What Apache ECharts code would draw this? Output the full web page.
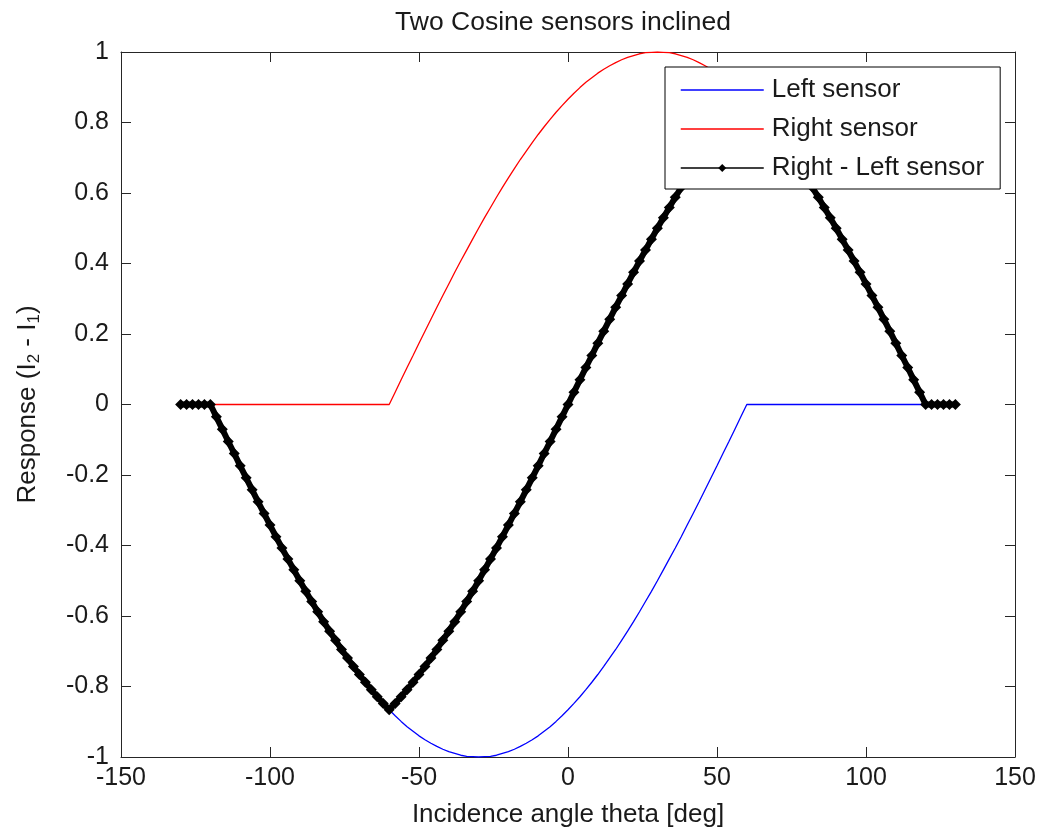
<!DOCTYPE html>
<html>
<head>
<meta charset="utf-8">
<script src="https://cdn.jsdelivr.net/npm/echarts@6/dist/echarts.min.js"></script>
<style>
html,body{margin:0;padding:0;background:#fff;}
#chart{width:1039px;height:834px;}
</style>
</head>
<body>
<div id="chart"></div>
<script>
// Incidence angles (deg)
const angles = [-130,-128,-126,-124,-122,-120,-118,-116,-114,-112,-110,-108,-106,-104,-102,-100,-98,-96,-94,-92,-90,-88,-86,-84,-82,-80,-78,-76,-74,-72,-70,-68,-66,-64,-62,-60,-58,-56,-54,-52,-50,-48,-46,-44,-42,-40,-38,-36,-34,-32,-30,-28,-26,-24,-22,-20,-18,-16,-14,-12,-10,-8,-6,-4,-2,0,2,4,6,8,10,12,14,16,18,20,22,24,26,28,30,32,34,36,38,40,42,44,46,48,50,52,54,56,58,60,62,64,66,68,70,72,74,76,78,80,82,84,86,88,90,92,94,96,98,100,102,104,106,108,110,112,114,116,118,120,122,124,126,128,130];

// Left sensor (plotted negative)
const leftSensor = [0,0,0,0,0,0,-0.035,-0.070,-0.105,-0.139,-0.174,-0.208,-0.242,-0.276,-0.309,-0.342,-0.375,-0.407,-0.438,-0.469,-0.500,-0.530,-0.559,-0.588,-0.616,-0.643,-0.669,-0.695,-0.719,-0.743,-0.766,-0.788,-0.809,-0.829,-0.848,-0.866,-0.883,-0.899,-0.914,-0.927,-0.940,-0.951,-0.961,-0.970,-0.978,-0.985,-0.990,-0.995,-0.998,-0.999,-1.000,-0.999,-0.998,-0.995,-0.990,-0.985,-0.978,-0.970,-0.961,-0.951,-0.940,-0.927,-0.914,-0.899,-0.883,-0.866,-0.848,-0.829,-0.809,-0.788,-0.766,-0.743,-0.719,-0.695,-0.669,-0.643,-0.616,-0.588,-0.559,-0.530,-0.500,-0.469,-0.438,-0.407,-0.375,-0.342,-0.309,-0.276,-0.242,-0.208,-0.174,-0.139,-0.105,-0.070,-0.035,0,0,0,0,0,0,0,0,0,0,0,0,0,0,0,0,0,0,0,0,0,0,0,0,0,0,0,0,0,0,0,0,0,0,0,0];

// Right sensor
const rightSensor = [0,0,0,0,0,0,0,0,0,0,0,0,0,0,0,0,0,0,0,0,0,0,0,0,0,0,0,0,0,0,0,0,0,0,0,0,0.035,0.070,0.105,0.139,0.174,0.208,0.242,0.276,0.309,0.342,0.375,0.407,0.438,0.469,0.500,0.530,0.559,0.588,0.616,0.643,0.669,0.695,0.719,0.743,0.766,0.788,0.809,0.829,0.848,0.866,0.883,0.899,0.914,0.927,0.940,0.951,0.961,0.970,0.978,0.985,0.990,0.995,0.998,0.999,1.000,0.999,0.998,0.995,0.990,0.985,0.978,0.970,0.961,0.951,0.940,0.927,0.914,0.899,0.883,0.866,0.848,0.829,0.809,0.788,0.766,0.743,0.719,0.695,0.669,0.643,0.616,0.588,0.559,0.530,0.500,0.469,0.438,0.407,0.375,0.342,0.309,0.276,0.242,0.208,0.174,0.139,0.105,0.070,0.035,0,0,0,0,0,0];

// Right - Left sensor
const diffSensor = [0,0,0,0,0,0,-0.035,-0.070,-0.105,-0.139,-0.174,-0.208,-0.242,-0.276,-0.309,-0.342,-0.375,-0.407,-0.438,-0.469,-0.500,-0.530,-0.559,-0.588,-0.616,-0.643,-0.669,-0.695,-0.719,-0.743,-0.766,-0.788,-0.809,-0.829,-0.848,-0.866,-0.848,-0.829,-0.809,-0.788,-0.766,-0.743,-0.719,-0.695,-0.669,-0.643,-0.616,-0.588,-0.559,-0.530,-0.500,-0.469,-0.438,-0.407,-0.375,-0.342,-0.309,-0.276,-0.242,-0.208,-0.174,-0.139,-0.105,-0.070,-0.035,0,0.035,0.070,0.105,0.139,0.174,0.208,0.242,0.276,0.309,0.342,0.375,0.407,0.438,0.469,0.500,0.530,0.559,0.588,0.616,0.643,0.669,0.695,0.719,0.743,0.766,0.788,0.809,0.829,0.848,0.866,0.848,0.829,0.809,0.788,0.766,0.743,0.719,0.695,0.669,0.643,0.616,0.588,0.559,0.530,0.500,0.469,0.438,0.407,0.375,0.342,0.309,0.276,0.242,0.208,0.174,0.139,0.105,0.070,0.035,0,0,0,0,0,0];

const seriesNames = ['Left sensor', 'Right sensor', 'Right - Left sensor'];
const xTicks = [-150, -100, -50, 0, 50, 100, 150];
const yTicks = [-1, -0.8, -0.6, -0.4, -0.2, 0, 0.2, 0.4, 0.6, 0.8, 1];

const pairs = (ys) => angles.map((a, i) => [a, ys[i]]);

const FONT = '"Liberation Sans", Arial, Helvetica, sans-serif';
const TXT = '#1a1a1a';
const AX = '#262626';

const chart = echarts.init(document.getElementById('chart'), null, {renderer: 'canvas'});

const tickStyle = {show: true, inside: true, length: 10, lineStyle: {color: AX, width: 1}};

chart.setOption({
  animation: false,
  backgroundColor: '#ffffff',
  title: {
    text: 'Two Cosine sensors inclined',
    left: 558,
    textAlign: 'center',
    top: 4,
    textStyle: {fontFamily: FONT, fontSize: 26.5, fontWeight: 'normal', color: TXT}
  },
  grid: {left: 121, right: 24, top: 52, bottom: 77, containLabel: false},
  legend: {
    orient: 'vertical',
    left: 665,
    top: 67,
    z: 10,
    padding: [10, 16, 8, 15],
    itemGap: 13,
    itemWidth: 83,
    itemHeight: 10,
    backgroundColor: '#ffffff',
    borderColor: '#000000',
    borderWidth: 1,
    borderRadius: 0,
    data: [
      {name: seriesNames[0], itemStyle: {opacity: 0}, lineStyle: {width: 1.3}},
      {name: seriesNames[1], itemStyle: {opacity: 0}, lineStyle: {width: 1.3}},
      {name: seriesNames[2], lineStyle: {width: 1.5}}
    ],
    textStyle: {fontFamily: FONT, fontSize: 26, color: TXT, lineHeight: 26, padding: [0, 0, 0, 3]}
  },
  xAxis: [{
    type: 'value',
    min: xTicks[0],
    max: xTicks[xTicks.length - 1],
    interval: 50,
    position: 'bottom',
    name: 'Incidence angle theta [deg]',
    nameLocation: 'middle',
    nameGap: 45,
    nameTextStyle: {fontFamily: FONT, fontSize: 26, color: TXT},
    axisLine: {show: true, onZero: false, lineStyle: {color: AX, width: 1}},
    axisTick: tickStyle,
    splitLine: {show: false},
    axisLabel: {fontFamily: FONT, fontSize: 25, color: TXT, margin: 9, showMinLabel: true, showMaxLabel: true}
  }, {
    type: 'value',
    min: xTicks[0],
    max: xTicks[xTicks.length - 1],
    interval: 50,
    position: 'top',
    axisLine: {show: true, onZero: false, lineStyle: {color: AX, width: 1}},
    axisTick: tickStyle,
    splitLine: {show: false},
    axisLabel: {show: false}
  }],
  yAxis: [{
    type: 'value',
    min: yTicks[0],
    max: yTicks[yTicks.length - 1],
    interval: 0.2,
    position: 'left',
    name: '{a|Response (I}{s|2}{a| - I}{s|1}{a|)}',
    nameLocation: 'middle',
    nameGap: 78,
    nameTextStyle: {
      fontFamily: FONT, fontSize: 26, color: TXT,
      rich: {
        a: {fontFamily: FONT, fontSize: 26, color: TXT},
        s: {fontFamily: FONT, fontSize: 17, color: TXT, padding: [14, 0, 0, 0]}
      }
    },
    axisLine: {show: true, onZero: false, lineStyle: {color: AX, width: 1}},
    axisTick: tickStyle,
    splitLine: {show: false},
    axisLabel: {
      fontFamily: FONT, fontSize: 25, color: TXT, margin: 12,
      showMinLabel: true, showMaxLabel: true,
      formatter: (v) => String(Math.round(v * 10) / 10)
    }
  }, {
    type: 'value',
    min: yTicks[0],
    max: yTicks[yTicks.length - 1],
    interval: 0.2,
    position: 'right',
    axisLine: {show: true, onZero: false, lineStyle: {color: AX, width: 1}},
    axisTick: tickStyle,
    splitLine: {show: false},
    axisLabel: {show: false}
  }],
  series: [{
    name: seriesNames[0],
    type: 'line',
    xAxisIndex: 0, yAxisIndex: 0,
    data: pairs(leftSensor),
    showSymbol: false,
    symbol: 'none',
    lineStyle: {color: '#0000ff', width: 1.3},
    itemStyle: {color: '#0000ff'},
    z: 2
  }, {
    name: seriesNames[1],
    type: 'line',
    xAxisIndex: 0, yAxisIndex: 0,
    data: pairs(rightSensor),
    showSymbol: false,
    symbol: 'none',
    lineStyle: {color: '#ff0000', width: 1.3},
    itemStyle: {color: '#ff0000'},
    z: 2
  }, {
    name: seriesNames[2],
    type: 'line',
    xAxisIndex: 0, yAxisIndex: 0,
    data: pairs(diffSensor),
    symbol: 'diamond',
    symbolSize: 11,
    showSymbol: true,
    showAllSymbol: true,
    lineStyle: {color: '#000000', width: 6},
    itemStyle: {color: '#000000'},
    z: 2
  }]
});
</script>
</body>
</html>
